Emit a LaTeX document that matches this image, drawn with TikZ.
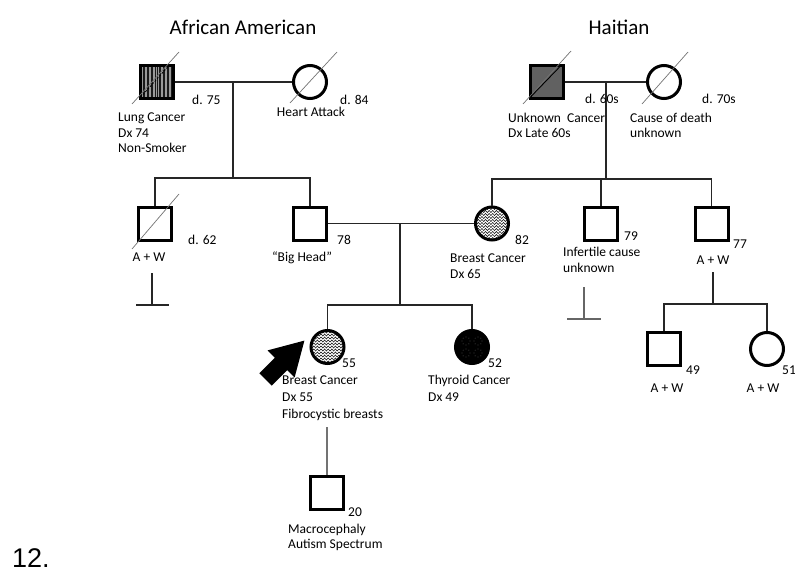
\documentclass[tikz,border=0pt]{standalone}
\usepackage{fontspec}
\setmainfont{Carlito}
\newfontfamily\figfont{Liberation Sans}
\usetikzlibrary{decorations.pathmorphing}

\begin{document}
\begin{tikzpicture}[x=1pt,y=-1pt,
  male/.style={draw, rectangle, line width=3pt, minimum size=33pt, inner sep=0pt, fill=white},
  female/.style={draw, circle, line width=3pt, minimum size=33pt, inner sep=0pt, fill=white},
  link/.style={line width=1.2pt, draw=black!85},
  slash/.style={line width=0.7pt, draw=black!55},
  lbl/.style={font=\fontsize{13.5}{16}\selectfont, inner sep=0pt, anchor=base west},
  clbl/.style={lbl, anchor=base},
  title/.style={font=\fontsize{21}{25}\selectfont, inner sep=0pt, anchor=base},
  % wavy hatching used for breast cancer
  wavy/.style={path picture={
    \foreach \k in {-21,-18,...,21}
      \draw[line width=0.5pt, decorate,
            decoration={snake, amplitude=1.1pt, segment length=3.6pt}]
        ([xshift=-22pt, yshift=\k pt]path picture bounding box.center) -- ++(44,0);
  }},
  % vertical striping used for lung cancer
  striped/.style={fill=black!40, path picture={
    \foreach \k/\w in {-16/0.8,-14/0.5,-12.5/1.0,-10/0.6,-8.5/0.9,-6/0.5,-4.5/1.1,-2/0.6,
                       0/0.9,2/0.5,3.5/1.0,6/0.6,7.5/0.9,10/0.5,11.5/1.1,14/0.6,16/0.8}
      \draw[line width=\w pt, black!90]
        ([xshift=\k pt, yshift=20pt]path picture bounding box.center) -- ++(0,40);
  }},
  % black fill with faint dotted rosettes used for thyroid cancer
  dotted/.style={fill=black, path picture={
    \foreach \cx in {-6,6} \foreach \cy in {-6,6} \foreach \t in {0,45,...,315}
      \fill[black!78] ([shift={({\cx+4*cos(\t)},{\cy+4*sin(\t)})}]path picture bounding box.center) circle (0.6pt);
  }}
]
\useasboundingbox (0,0) rectangle (795,575);

% headings
\node[title] (tA) at (243,35) {African American};
\node[title] (tH) at (619,35) {Haitian};

% generation I
\node[male, striped] (gfA) at (157,82) {};
\node[female] (gmA) at (310,82) {};
\node[male, fill=black!62] (gfH) at (547,82) {};
\node[female] (gmH) at (664,82) {};

% generation II
\node[male] (uncA) at (155,223.5) {};
\node[male] (dad) at (310,223.5) {};
\node[female, wavy] (mom) at (492,223.5) {};
\node[male] (uncHa) at (601,223.5) {};
\node[male] (uncHb) at (711.5,223.5) {};

% generation III
\node[female, wavy] (prob) at (327.5,347) {};
\node[female, dotted] (sis) at (472,347) {};
\node[male] (cousA) at (664,349) {};
\node[female] (cousB) at (767,349) {};

% generation IV
\node[male] (son) at (327,493) {};

% deceased markers
\draw[slash] ([shift={(-25,22)}]gfA.center) -- ([shift={(22,-30)}]gfA.center);
\draw[line width=0.8pt, black, dashed, dash pattern=on 2pt off 1.5pt] ([shift={(-14,12.5)}]gfA.center) -- ([shift={(12.5,-17)}]gfA.center);
\draw[slash] ([shift={(-20,21)}]gmA.center) -- ([shift={(27,-30)}]gmA.center);
\draw[slash] ([shift={(-24,22)}]gfH.center) -- ([shift={(24,-31)}]gfH.center);
\draw[line width=0.9pt, black] ([shift={(-16,14.5)}]gfH.center) -- ([shift={(14.5,-17)}]gfH.center);
\draw[slash] ([shift={(-22,22)}]gmH.center) -- ([shift={(24,-30)}]gmH.center);
\draw[slash] ([shift={(-23,25.5)}]uncA.center) -- ([shift={(24,-29.5)}]uncA.center);

% African American couple and children
\coordinate (mA) at (233,82);
\coordinate (sA) at (233,178);
\draw[link] (gfA.east) -- (gmA.west);
\draw[link] (mA) -- (sA);
\draw[link] (uncA.north) |- (sA) -| (dad.north);

% Haitian couple and children
\coordinate (mH) at (606,82);
\coordinate (sH) at (606,179);
\draw[link] (gfH.east) -- (gmH.west);
\draw[link] (mH) -- (sH);
\draw[link] (mom.north) |- (uncHb.north |- sH) -- (uncHb.north);
\draw[link] (uncHa.north) -- (uncHa.north |- sH);

% parents and daughters
\coordinate (mP) at (400,223.5);
\coordinate (sP) at (400,305);
\draw[link] (dad.east) -- (mom.west);
\draw[link] (mP) -- (sP);
\draw[link] (prob.north) |- (sis.north |- sP) -- (sis.north);

% son of the proband
\coordinate (sonTop) at (327,427);
\draw[link, draw=black!55] (sonTop) -- (son.north);

% no offspring
\coordinate (nA) at (152,273);
\coordinate (nAb) at (152,305);
\coordinate (nAl) at (136,305);
\coordinate (nAr) at (169,305);
\draw[link] (nA) -- (nAb);
\draw[link] (nAl) -- (nAr);
\coordinate (nH) at (584,287);
\coordinate (nHb) at (584,319);
\coordinate (nHl) at (567,319);
\coordinate (nHr) at (601,319);
\draw[link, draw=black!60] (nH) -- (nHb);
\draw[link, draw=black!60] (nHl) -- (nHr);

% cousins
\coordinate (dH) at (713,272);
\coordinate (sC) at (713,304);
\draw[link] (dH) -- (sC);
\draw[link] (cousA.north) |- (cousB.north |- sC) -- (cousB.north);

% proband arrow
\fill[black] (259.3,373.3) -- (271.7,385.7) -- (287.2,370.1) -- (294.6,377.5)
  -- (304.4,340.6) -- (267.5,350.4) -- (274.9,357.8) -- cycle;

% labels, generation I
\node[lbl] (l1) at (192,105) {d. 75};
\node[lbl] (l2) at (118,122) {Lung Cancer};
\node[lbl] (l3) at (118,138) {Dx 74};
\node[lbl] (l4) at (118,153) {Non-Smoker};
\node[lbl] (l5) at (340,105) {d. 84};
\node[clbl] (l6) at (311,117) {Heart Attack};
\node[lbl] (l7) at (585,104) {d. 60s};
\node[lbl] (l8) at (508,123) {Unknown\ \ Cancer};
\node[lbl] (l9) at (508,138) {Dx Late 60s};
\node[lbl] (l10) at (702,104) {d. 70s};
\node[lbl] (l11) at (630,123) {Cause of death};
\node[lbl] (l12) at (630,138) {unknown};

% labels, generation II
\node[lbl] (l13) at (188,244) {d. 62};
\node[clbl] (l14) at (149,261) {A + W};
\node[lbl] (l15) at (337,244) {78};
\node[clbl] (l16) at (302,261) {``Big Head''};
\node[lbl] (l17) at (515,244) {82};
\node[lbl] (l18) at (450,262) {Breast Cancer};
\node[lbl] (l19) at (450,278) {Dx 65};
\node[lbl] (l20) at (624,240) {79};
\node[lbl] (l21) at (563,256) {Infertile cause};
\node[lbl] (l22) at (563,272) {unknown};
\node[lbl] (l23) at (733,248) {77};
\node[clbl] (l24) at (713,264) {A + W};

% labels, generation III
\node[lbl] (l25) at (342,367) {55};
\node[lbl] (l26) at (282,384) {Breast Cancer};
\node[lbl] (l27) at (282,401) {Dx 55};
\node[lbl] (l28) at (282,418) {Fibrocystic breasts};
\node[lbl] (l29) at (488,367) {52};
\node[lbl] (l30) at (428,384) {Thyroid Cancer};
\node[lbl] (l31) at (428,401) {Dx 49};
\node[lbl] (l32) at (686,374) {49};
\node[clbl] (l33) at (667,392) {A + W};
\node[lbl] (l34) at (782,374) {51};
\node[clbl] (l35) at (763,392) {A + W};

% labels, generation IV
\node[lbl] (l36) at (348,516) {20};
\node[lbl] (l37) at (288,533) {Macrocephaly};
\node[lbl] (l38) at (288,548) {Autism Spectrum};

% figure number
\node[inner sep=0pt, anchor=base west, font=\figfont\fontsize{27}{30}\selectfont] (fig) at (12,567) {12.};
\end{tikzpicture}
\end{document}
